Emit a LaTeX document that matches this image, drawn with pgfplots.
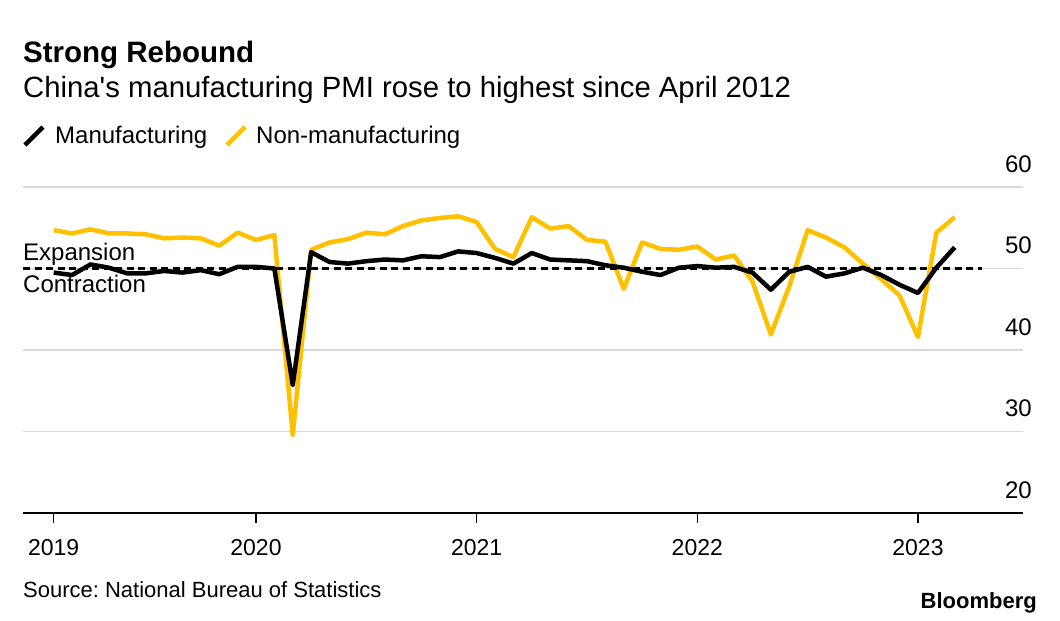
\documentclass[border=0pt]{standalone}
\usepackage{pgfplots}
\pgfplotsset{compat=1.18}
\usepackage{fontspec}
\setmainfont{Liberation Sans}
\frenchspacing
\definecolor{bbyellow}{RGB}{255,192,0}
\definecolor{gridgray}{RGB}{217,217,217}
\newcommand{\fs}[1]{\fontsize{#1}{#1}\selectfont}
\begin{document}
\begin{tikzpicture}[x=1pt,y=1pt]
\path[use as bounding box] (0,0) rectangle (1060,-621);
\begin{axis}[
  at={(23pt,-513pt)}, anchor=south west,
  scale only axis, width=1000pt, height=326pt,
  xmin=-0.67, xmax=53.71, ymin=20, ymax=60,
  axis x line=bottom, axis y line=right,
  x axis line style={-, black, line width=1.5pt},
  y axis line style={draw=none},
  xtick={1,12,24,36,48},
  xticklabels={2019,2020,2021,2022,2023},
  ytick={20,30,40,50,60},
  major tick length=10pt,
  tick align=outside,
  xtick style={black, line width=1.5pt},
  ytick style={draw=none},
  ymajorgrids,
  grid style={gridgray, line width=1.5pt},
  /pgf/number format/assume math mode=true,
  xticklabel style={font=\fs{23}, anchor=base, inner sep=0pt, yshift=-32pt},
  yticklabel style={font=\fs{24}, anchor=base east, inner sep=0pt, yshift=15pt, xshift=-1pt},
  clip=false,
]
\addplot[bbyellow, line width=4.5pt, line join=round] coordinates {
(1,54.7) (2,54.3) (3,54.8) (4,54.3) (5,54.3) (6,54.2) (7,53.7) (8,53.8) (9,53.7) (10,52.8) (11,54.4) (12,53.5)
(13,54.1) (14,29.6) (15,52.3) (16,53.2) (17,53.6) (18,54.4) (19,54.2) (20,55.2) (21,55.9) (22,56.2) (23,56.4) (24,55.7)
(25,52.4) (26,51.4) (27,56.3) (28,54.9) (29,55.2) (30,53.5) (31,53.3) (32,47.5) (33,53.2) (34,52.4) (35,52.3) (36,52.7)
(37,51.1) (38,51.6) (39,48.4) (40,41.9) (41,47.8) (42,54.7) (43,53.8) (44,52.6) (45,50.6) (46,48.7) (47,46.7) (48,41.6)
(49,54.4) (50,56.3)
};
\addplot[black, line width=4.5pt, line join=round] coordinates {
(1,49.5) (2,49.2) (3,50.5) (4,50.1) (5,49.4) (6,49.4) (7,49.7) (8,49.5) (9,49.8) (10,49.3) (11,50.2) (12,50.2)
(13,50.0) (14,35.7) (15,52.0) (16,50.8) (17,50.6) (18,50.9) (19,51.1) (20,51.0) (21,51.5) (22,51.4) (23,52.1) (24,51.9)
(25,51.3) (26,50.6) (27,51.9) (28,51.1) (29,51.0) (30,50.9) (31,50.4) (32,50.1) (33,49.6) (34,49.2) (35,50.1) (36,50.3)
(37,50.1) (38,50.2) (39,49.5) (40,47.4) (41,49.6) (42,50.2) (43,49.0) (44,49.4) (45,50.1) (46,49.2) (47,48.0) (48,47.0)
(49,50.1) (50,52.6)
};
\addplot[black, line width=2.5pt, dash pattern=on 7pt off 4.5pt] coordinates {(-0.67,50) (51.5,50)};
\end{axis}
% titles
\node[anchor=base west, inner sep=0pt] at (23,-62) {\fs{29.5}\bfseries Strong Rebound};
\node[anchor=base west, inner sep=0pt] at (23,-97) {\fs{29.3}China\textquotesingle s manufacturing PMI rose to highest since April 2012};
% legend
\draw[black, line width=4.5pt] (25,-145) -- (43,-127);
\node[anchor=base west, inner sep=0pt] at (55,-143) {\fs{24}Manufacturing};
\draw[bbyellow, line width=4.5pt] (227,-145) -- (245,-127);
\node[anchor=base west, inner sep=0pt] at (256,-143) {\fs{24}Non-manufacturing};
% expansion / contraction
\node[anchor=base west, inner sep=0pt] at (23,-260) {\fs{24}Expansion};
\node[anchor=base west, inner sep=0pt] at (23,-292) {\fs{24}Contraction};
% footer
\node[anchor=base west, inner sep=0pt] at (23,-597) {\fs{22}Source: National Bureau of Statistics};
\node[anchor=base east, inner sep=0pt] at (1037,-608) {\fs{22}\bfseries Bloomberg};
\end{tikzpicture}
\end{document}
